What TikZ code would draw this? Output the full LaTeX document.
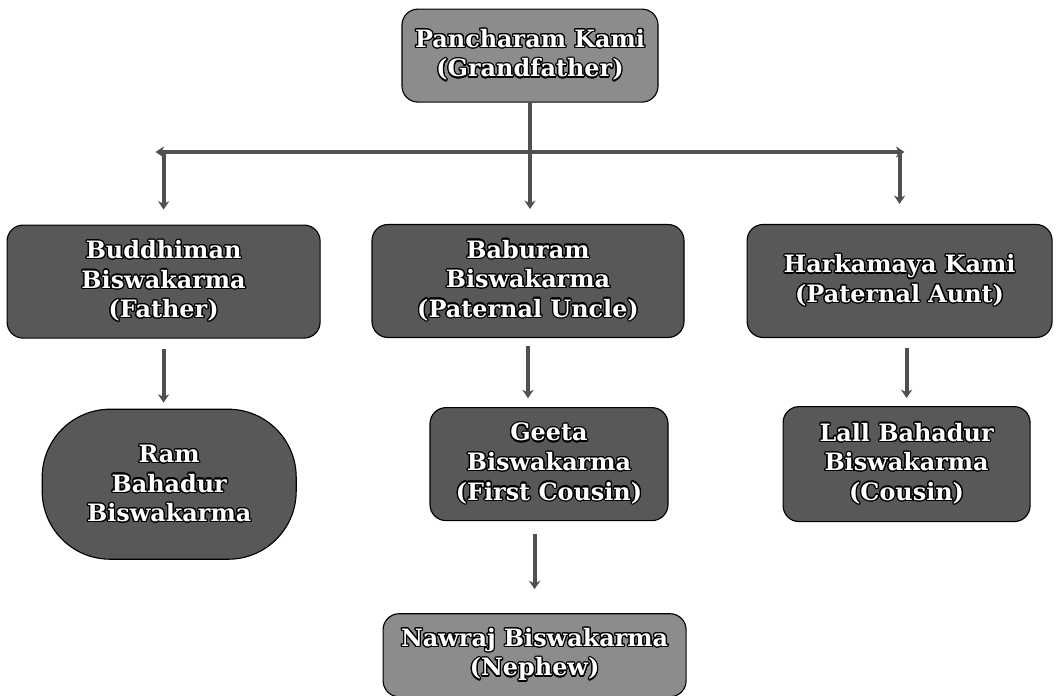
\documentclass[tikz,border=0pt]{standalone}
\usepackage{fontspec}
\setmainfont{DejaVu Serif}
\usepackage[copies]{contour}
\usetikzlibrary{arrows.meta, positioning}
\definecolor{boxdark}{RGB}{88,88,88}
\definecolor{boxlight}{RGB}{140,140,140}
\definecolor{linkgray}{RGB}{80,80,80}
\contourlength{0.9pt}
\newcommand{\olname}[1]{\contour{black}{#1}}

\begin{document}
\begin{tikzpicture}[
  node distance=1.75cm,
  person/.style={rectangle, rounded corners=0.4cm, draw=black, line width=0.8pt, fill=boxdark,
                 text=white, align=center, inner sep=0pt, font=\fontsize{17}{21}\selectfont\bfseries},
  elder/.style={person, fill=boxlight},
  link/.style={-{Stealth[length=6pt,width=8pt]}, line width=2.8pt, draw=linkgray}
]
\useasboundingbox (0,0) rectangle (26.4,17.4);

% grandfather and his children
\node[elder, minimum width=6.4cm, minimum height=2.325cm] (gf) at (13.25,16.01) {\olname{Pancharam Kami}\\\olname{(Grandfather)}};
\node[person, minimum width=7.825cm, minimum height=2.825cm] (bud) at (4.09,10.36) {\olname{Buddhiman}\\\olname{Biswakarma}\\\olname{(Father)}};
\node[person, minimum width=7.8cm, minimum height=2.825cm] (bab) at (13.2,10.375) {\olname{Baburam}\\\olname{Biswakarma}\\\olname{(Paternal Uncle)}};
\node[person, minimum width=7.625cm, minimum height=2.825cm] (hark) at (22.49,10.375) {\olname{Harkamaya Kami}\\\olname{(Paternal Aunt)}};

% next generation
\node[person, rounded corners=1.7cm, minimum width=6.35cm, minimum height=3.75cm, below=1.75cm of bud, xshift=0.14cm] (ram) {\olname{Ram}\\\olname{Bahadur}\\\olname{Biswakarma}};
\node[person, minimum width=5.95cm, minimum height=2.825cm, below=1.725cm of bab, xshift=0.525cm] (geeta) {\olname{Geeta}\\\olname{Biswakarma}\\\olname{(First Cousin)}};
\node[person, minimum width=6.175cm, minimum height=2.875cm, below=1.7cm of hark, xshift=0.175cm] (lall) {\olname{Lall Bahadur}\\\olname{Biswakarma}\\\olname{(Cousin)}};
\node[elder, minimum width=7.575cm, minimum height=2.075cm, below=2.3cm of geeta, xshift=-0.36cm] (nawraj) {\olname{Nawraj Biswakarma}\\\olname{(Nephew)}};

\coordinate (bar) at (13.25,13.6);
\coordinate (barL) at (bud.north |- bar);
\coordinate (barR) at (hark.north |- bar);

\draw[link, shorten >=0.375cm] (gf.south) -- (gf.south |- bab.north);
\draw[link, {Stealth[length=6pt,width=8pt]}-{Stealth[length=6pt,width=8pt]}] ([xshift=-0.2cm]barL) -- ([xshift=0.12cm]barR);
\draw[link, shorten >=0.375cm] (barL) -- (bud.north);
\draw[link, shorten >=0.5cm] (barR) -- (hark.north);

\draw[link, shorten <=0.25cm, shorten >=0.15cm] (bud.south) -- (bud.south |- ram.north);
\draw[link, shorten <=0.2cm, shorten >=0.22cm] (bab.south) -- (bab.south |- geeta.north);
\draw[link, shorten <=0.32cm, shorten >=0.6cm] (nawraj.north |- geeta.south) -- (nawraj.north);
\draw[link, shorten <=0.25cm, shorten >=0.2cm] (lall.north |- hark.south) -- (lall.north);

\end{tikzpicture}
\end{document}
